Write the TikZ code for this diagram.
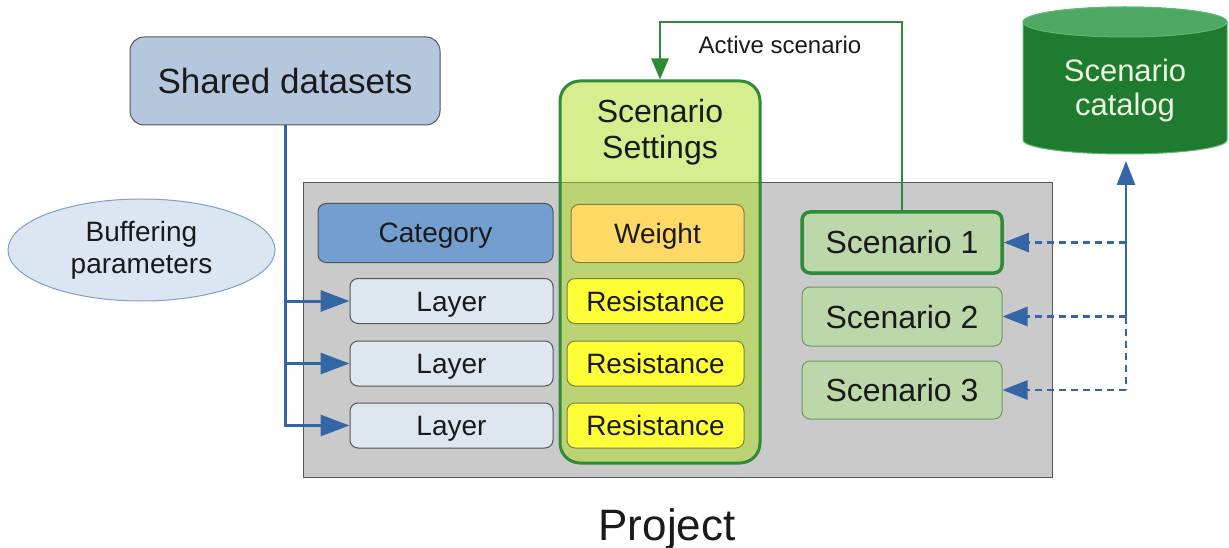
\documentclass[tikz,border=0pt]{standalone}
\usepackage{fontspec}
\setmainfont{Liberation Sans}
\usetikzlibrary{arrows.meta,shapes.geometric}
\definecolor{txt}{HTML}{1A1A1A}
\definecolor{boxline}{HTML}{555555}
\definecolor{sharedfill}{HTML}{B4C7DC}
\definecolor{buffill}{HTML}{DCE6F2}
\definecolor{bufline}{HTML}{7F9FC4}
\definecolor{projfill}{HTML}{CACACA}
\definecolor{catfill}{HTML}{729FCF}
\definecolor{layerfill}{HTML}{DEE6EF}
\definecolor{setfill}{RGB}{173,221,29}
\definecolor{setline}{HTML}{2E8B36}
\definecolor{weightfill}{HTML}{FFD966}
\definecolor{resfill}{HTML}{FFFF38}
\definecolor{resline}{HTML}{7F7F40}
\definecolor{scfill}{HTML}{BCD8AA}
\definecolor{scline}{HTML}{6A9A5A}
\definecolor{cylbody}{HTML}{1E7B30}
\definecolor{cyltop}{HTML}{4CA862}
\definecolor{cylline}{HTML}{5FB870}
\definecolor{cyltext}{HTML}{EEF5E0}
\definecolor{arrblue}{HTML}{3465A4}
\begin{document}
\begin{tikzpicture}[x=1pt,y=-1pt,
  box/.style={draw=boxline, line width=1pt, rounded corners=8pt, inner sep=0pt, text=txt,
    text height=20pt, text depth=0pt, font=\fontsize{28}{33}\selectfont},
  scbox/.style={box, fill=scfill, draw=scline, text height=23pt, font=\fontsize{32}{38}\selectfont},
  bluearrow/.style={draw=arrblue, line width=3pt, -{Triangle[length=29pt,width=21pt]}},
  dashblue/.style={draw=arrblue, line width=2.6pt, dash pattern=on 7pt off 5pt},
  dasharrow/.style={dashblue, -{Triangle[length=25pt,width=19pt]}},
  greenarrow/.style={draw=setline, line width=2.6pt, -{Triangle[length=21pt,width=17pt]}}]
\useasboundingbox (0,0) rectangle (1229,548);

% Shared datasets
\node[box, fill=sharedfill, rounded corners=14pt, minimum width=310pt, minimum height=88pt,
  text height=25pt, font=\fontsize{35}{40}\selectfont] (shared) at (285,81) {Shared datasets};

% Buffering parameters
\node[ellipse, draw=bufline, line width=1pt, fill=buffill, minimum width=267pt, minimum height=102pt,
  inner sep=0pt, text=txt, align=center, font=\fontsize{28}{32}\selectfont] (buf) at (141.5,250) {Buffering\\parameters};

% Project box
\node[draw=boxline, line width=1pt, fill=projfill, minimum width=749pt, minimum height=294pt, inner sep=0pt] (proj) at (677.5,330) {};
\node[anchor=base, text=txt, font=\fontsize{44}{50}\selectfont, inner sep=0pt] (projlabel) at (667,540) {Project};

% Category and layers
\node[box, fill=catfill, minimum width=235pt, minimum height=59pt] (cat) at (435.5,233) {Category};
\node[box, fill=layerfill, minimum width=203pt, minimum height=45pt] (l1) at (451.5,301) {Layer};
\node[box, fill=layerfill, minimum width=203pt, minimum height=45pt] (l2) at (451.5,363.5) {Layer};
\node[box, fill=layerfill, minimum width=203pt, minimum height=45pt] (l3) at (451.5,425.5) {Layer};

% Scenario settings
\node[draw=setline, line width=3pt, fill=setfill, fill opacity=0.5, rounded corners=20pt,
  minimum width=200pt, minimum height=382pt, inner sep=0pt] (set) at (660,272) {};
\node[align=center, text=txt, font=\fontsize{32}{36}\selectfont, inner sep=0pt] (settxt) at (660,132) {Scenario\\Settings};

\node[box, fill=weightfill, draw=resline, minimum width=173pt, minimum height=58pt] (w) at (657.5,233.5) {Weight};
\node[box, fill=resfill, draw=resline, minimum width=177pt, minimum height=45pt] (r1) at (655.5,301) {Resistance};
\node[box, fill=resfill, draw=resline, minimum width=177pt, minimum height=45pt] (r2) at (655.5,363.5) {Resistance};
\node[box, fill=resfill, draw=resline, minimum width=177pt, minimum height=45pt] (r3) at (655.5,425.5) {Resistance};

% Scenarios
\node[scbox, draw=setline, line width=3.5pt, minimum width=200pt, minimum height=61pt] (sc1) at (902,242.5) {Scenario 1};
\node[scbox, minimum width=200pt, minimum height=59pt] (sc2) at (902,316.5) {Scenario 2};
\node[scbox, minimum width=200pt, minimum height=58pt] (sc3) at (902,390) {Scenario 3};

% Scenario catalog cylinder
\path[fill=cylbody, draw=cylline, line width=1pt]
  (1023,22) -- (1023,140) arc[start angle=180, end angle=360, x radius=102pt, y radius=14pt]
  -- (1227,22) arc[start angle=0, end angle=180, x radius=102pt, y radius=15pt] -- cycle;
\path[fill=cyltop, draw=cylline, line width=1pt] (1125,22) ellipse[x radius=102pt, y radius=15pt];
\node[align=center, text=cyltext, font=\fontsize{31}{34}\selectfont, inner sep=0pt] (catalog) at (1125,90) {Scenario\\catalog};
\coordinate (catb) at (1126,161);

% Connectors: shared datasets to layers
\draw[bluearrow] (shared.south) |- (l1.west);
\draw[bluearrow] (shared.south) |- (l2.west);
\draw[bluearrow] (shared.south) |- (l3.west);

% Active scenario
\coordinate (acttop) at (660,22);
\draw[greenarrow] (sc1.north) |- (acttop) -- (set.north);
\node[text=txt, font=\fontsize{24}{28}\selectfont, inner sep=0pt] (actlabel) at (780,45) {Active scenario};

% Catalog links
\draw[draw=arrblue, line width=2.8pt, -{Triangle[length=24pt,width=18pt]}] (catb |- sc2.east) -- (catb);
\draw[dashblue] (catb |- sc2.east) -- (catb |- sc3.east);
\draw[dasharrow] (catb |- sc1.east) -- (sc1.east);
\draw[dasharrow] (catb |- sc2.east) -- (sc2.east);
\draw[dasharrow] (catb |- sc3.east) -- (sc3.east);
\end{tikzpicture}
\end{document}
